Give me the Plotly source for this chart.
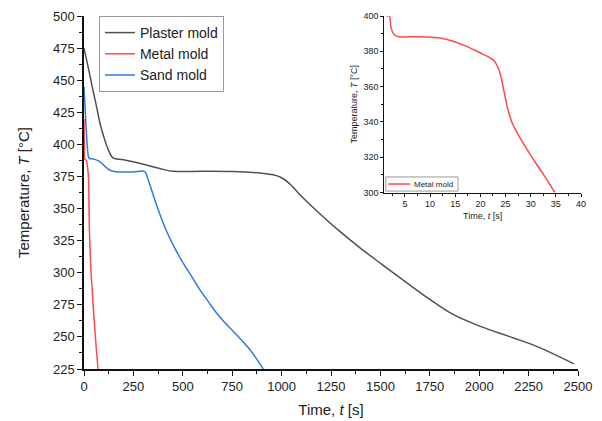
import plotly.graph_objects as go

# ---- data ----
plaster_t = [0, 20, 40, 60, 80, 100, 120, 147, 200, 316, 400, 451, 600, 755, 900, 958, 1000, 1050,
             1093, 1200, 1296, 1400, 1499, 1600, 1752, 1870, 2006, 2174, 2300, 2479]
plaster_T = [475, 461, 446, 432, 417, 406, 397, 389.5, 388, 384, 380.5, 379, 379, 378.8, 377.5, 376.3,
             374, 368, 360.7, 345, 332, 319, 307.5, 296, 279, 267.3, 258.2, 249.2, 242, 229]

metal_t = [0, 2, 4, 8, 12, 15, 20, 23, 25, 27, 30, 35, 40, 50, 60, 71]
metal_T = [420, 399, 388.5, 388, 387.5, 385.4, 379.3, 373, 355, 335, 322, 302, 290, 266, 245, 225]

sand_t = [0, 5, 10, 15, 20, 25, 50, 80, 105, 130, 160, 181, 250, 308, 320, 340, 360, 390, 420, 460,
          502, 545, 586, 630, 671, 713, 755, 800, 840, 875, 907]
sand_T = [445, 430, 415, 402, 393, 389.3, 388.5, 386.6, 383, 380, 378.6, 378.4, 378.5, 378.8, 374.5, 365.5,
          356, 343, 331.5, 319, 307.5, 297, 286.8, 277.3, 268.6, 261, 254.4, 247, 240, 232.5, 225]

inset_t = [1.3, 1.9, 2.2, 2.8, 3.3, 4.0, 6, 10, 12.5, 14.9, 17.5, 19.9, 21.5, 22.6, 23.1, 23.6, 24.1,
           24.5, 25.0, 25.5, 26.3, 27.2, 28.5, 29.8, 31.1, 32.4, 33.6, 34.8]
inset_T = [400, 400, 394, 389.6, 388.6, 388.2, 388.2, 388, 387.3, 385.4, 382.5, 379.2, 377, 375, 373,
           370.3, 365.5, 360, 353, 346.7, 339.5, 334.4, 328, 322, 316.3, 310.8, 305.5, 300]

series_names = ["Plaster mold", "Metal mold", "Sand mold"]
colors = ["#505050", "#ff4a4a", "#2d7be0"]

fig = go.Figure()
fig.add_trace(go.Scatter(x=plaster_t, y=plaster_T, mode="lines", name=series_names[0],
                         line=dict(color=colors[0], width=1.5), line_shape="spline"))
fig.add_trace(go.Scatter(x=metal_t, y=metal_T, mode="lines", name=series_names[1],
                         line=dict(color=colors[1], width=1.5), line_shape="spline"))
fig.add_trace(go.Scatter(x=sand_t, y=sand_T, mode="lines", name=series_names[2],
                         line=dict(color=colors[2], width=1.5), line_shape="spline"))
fig.add_trace(go.Scatter(x=inset_t, y=inset_T, mode="lines", name="Metal mold", showlegend=False,
                         line=dict(color=colors[1], width=1.5), line_shape="spline",
                         xaxis="x2", yaxis="y2"))

axis_common = dict(showline=True, linecolor="#111", linewidth=1.5, ticks="outside",
                   tickcolor="#111", showgrid=False, zeroline=False, mirror=False, automargin=False)

# inset legend (decoration, paper coordinates)
shapes = [
    dict(type="rect", xref="paper", yref="paper", x0=0.606, x1=0.751, y0=0.504, y1=0.544,
         line=dict(color="#999", width=1), fillcolor="white", layer="above"),
    dict(type="line", xref="paper", yref="paper", x0=0.611, x1=0.655, y0=0.524, y1=0.524,
         line=dict(color=colors[1], width=1.5), layer="above"),
]
annotations = [
    dict(text="Metal mold", xref="paper", yref="paper", x=0.659, y=0.524, xanchor="left",
         yanchor="middle", showarrow=False, font=dict(size=8, color="#222")),
]

fig.update_layout(
    width=602, height=421,
    margin=dict(l=84, r=20, t=16, b=52),
    plot_bgcolor="white", paper_bgcolor="white",
    font=dict(family="Liberation Sans, Arial, sans-serif", color="#222"),
    xaxis=dict(axis_common, domain=[0, 0.992], range=[0, 2500], dtick=250, ticklen=5, tickwidth=1.3,
               tickfont=dict(size=13),
               minor=dict(ticks="outside", dtick=125, ticklen=3, tickcolor="#111"),
               title=dict(text="Time, <i>t</i> [s]", font=dict(size=15), standoff=11)),
    yaxis=dict(axis_common, domain=[0, 1], range=[225, 500], dtick=25, ticklen=5, tickwidth=1.3,
               tickfont=dict(size=13),
               minor=dict(ticks="outside", dtick=12.5, ticklen=3, tickcolor="#111"),
               title=dict(text="Temperature, <i>T</i> [°C]", font=dict(size=15), standoff=20)),
    xaxis2=dict(axis_common, domain=[0.603, 0.998], anchor="y2", range=[0.9, 40], dtick=5, tick0=0,
                ticklen=3, linewidth=1, tickwidth=1, tickfont=dict(size=9),
                minor=dict(ticks="outside", dtick=2.5, ticklen=2, tickcolor="#111"),
                title=dict(text="Time, <i>t</i> [s]", font=dict(size=9), standoff=4)),
    yaxis2=dict(axis_common, domain=[0.5, 1.0], anchor="x2", range=[300, 400], dtick=20,
                ticklen=3, linewidth=1, tickwidth=1, tickfont=dict(size=9),
                minor=dict(ticks="outside", dtick=10, ticklen=2, tickcolor="#111"),
                title=dict(text="Temperature, <i>T</i> [°C]", font=dict(size=9), standoff=4)),
    legend=dict(x=0.03, y=1.0, xanchor="left", yanchor="top", bordercolor="#999", borderwidth=1,
                bgcolor="white", font=dict(size=14), tracegroupgap=0),
    shapes=shapes,
    annotations=annotations,
)

fig.write_html("out.html", config={"displayModeBar": False},
               post_script="document.body.style.margin='0px';")
